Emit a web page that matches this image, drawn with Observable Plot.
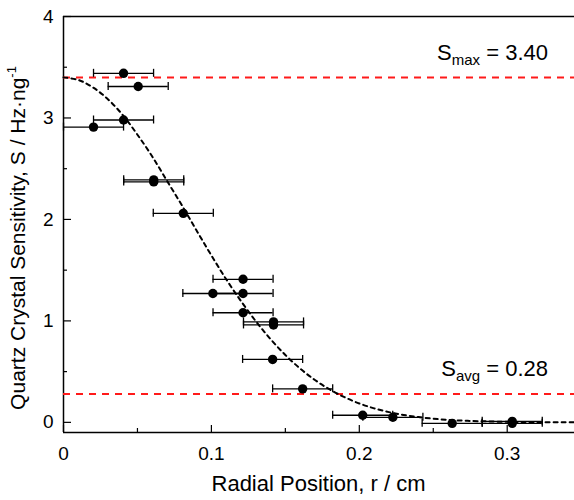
<!DOCTYPE html>
<html><head><meta charset="utf-8">
<script src="https://cdn.jsdelivr.net/npm/d3@7"></script>
<script src="https://cdn.jsdelivr.net/npm/@observablehq/plot@0.6"></script>
<style>body{margin:0;background:#fff;overflow:hidden} svg{display:block}</style>
</head><body><div id="chart"></div>
<script>
// Measured points (radial position in cm, sensitivity in Hz·ng^-1)
const radius = [0.0406, 0.0505, 0.0406, 0.0203, 0.061, 0.061, 0.081, 0.1214, 0.101, 0.1214, 0.1214, 0.142, 0.142, 0.1414, 0.1617, 0.2023, 0.2227, 0.2628, 0.3034, 0.3034];
const sensitivity = [3.44, 3.31, 2.98, 2.91, 2.39, 2.37, 2.06, 1.41, 1.27, 1.27, 1.08, 0.99, 0.96, 0.62, 0.33, 0.07, 0.05, -0.01, 0.01, -0.01];
const radiusError = [0.0203, 0.0203, 0.0203, 0.0203, 0.0203, 0.0203, 0.0203, 0.0203, 0.0203, 0.0203, 0.0203, 0.0203, 0.0203, 0.0203, 0.0203, 0.0203, 0.0203, 0.0203, 0.0203, 0.0203];
// Dashed fit curve
const fitRadius = [0, 0.01, 0.02, 0.03, 0.04, 0.05, 0.06, 0.07, 0.08, 0.09, 0.10, 0.11, 0.12, 0.13, 0.14, 0.15, 0.16, 0.17, 0.18, 0.19, 0.20, 0.21, 0.22, 0.23, 0.24, 0.25, 0.26, 0.27, 0.28, 0.30, 0.32, 0.3455];
const fitSensitivity = [3.40, 3.375, 3.30, 3.185, 3.03, 2.835, 2.62, 2.38, 2.14, 1.89, 1.645, 1.41, 1.195, 0.997, 0.82, 0.664, 0.53, 0.417, 0.324, 0.248, 0.186, 0.138, 0.101, 0.073, 0.052, 0.036, 0.025, 0.017, 0.012, 0.005, 0.002, 0.0];
// Reference levels
const refLevels = [3.40, 0.28];
const refSubscripts = ["max", "avg"];
const refLabels = ["3.40", "0.28"];
// Axis ticks
const xTicks = [0, 0.1, 0.2, 0.3];
const xMinorTicks = [0.05, 0.15, 0.25];
const yTicks = [0, 1, 2, 3, 4];
const yMinorTicks = [0.5, 1.5, 2.5, 3.5];
const xTitle = "Radial Position, r / cm";
const yTitle = "Quartz Crystal Sensitivity, S / Hz·ng";
const yTitleSup = "-1";

const points = radius.map((r, i) => ({r, s: sensitivity[i], e: radiusError[i]}));
const fit = fitRadius.map((r, i) => ({r, s: fitSensitivity[i]}));
const yBottom = -0.1, yTop = 4;

const plot = Plot.plot({
  width: 574, height: 500,
  marginLeft: 63, marginRight: 0, marginTop: 16, marginBottom: 68,
  style: {fontFamily: "'Liberation Sans', Arial, sans-serif", background: "white", color: "black"},
  x: {domain: [0, 0.3455], label: null},
  y: {domain: [yBottom, yTop], label: null},
  marks: [
    Plot.axisX(xTicks, {tickSize: 0, tickPadding: 14, fontSize: 19, tickFormat: d => String(d)}),
    Plot.axisY(yTicks, {tickSize: 0, tickPadding: 10, fontSize: 19, tickFormat: d => String(d)}),
    // inward ticks
    Plot.ruleY(yTicks, {x1: 0, x2: 0, insetRight: -8, stroke: "black", strokeWidth: 1.2}),
    Plot.ruleY(yMinorTicks, {x1: 0, x2: 0, insetRight: -4, stroke: "black", strokeWidth: 1.2}),
    Plot.ruleX(xTicks, {y1: yBottom, y2: yBottom, insetBottom: 7, stroke: "black", strokeWidth: 1.2}),
    Plot.ruleX(xMinorTicks, {y1: yBottom, y2: yBottom, insetBottom: 4, stroke: "black", strokeWidth: 1.2}),
    // frame
    Plot.ruleY([yTop], {stroke: "black", strokeWidth: 1.5}),
    Plot.ruleY([yBottom], {stroke: "black", strokeWidth: 1.5}),
    Plot.ruleX([0], {stroke: "black", strokeWidth: 1.5}),
    // reference lines
    Plot.ruleY(refLevels, {stroke: "#ff1a1a", strokeWidth: 2, strokeDasharray: "7,6"}),
    // fit curve
    Plot.line(fit, {x: "r", y: "s", curve: "catmull-rom", stroke: "black", strokeWidth: 2, strokeDasharray: "4,4"}),
    // error bars
    Plot.ruleY(points, {y: "s", x1: d => d.r - d.e, x2: d => d.r + d.e, stroke: "black", strokeWidth: 1.3}),
    Plot.ruleX(points, {x: d => d.r - d.e, y1: "s", y2: "s", insetTop: -4, insetBottom: -4, stroke: "black", strokeWidth: 1.3}),
    Plot.ruleX(points, {x: d => d.r + d.e, y1: "s", y2: "s", insetTop: -4, insetBottom: -4, stroke: "black", strokeWidth: 1.3}),
    Plot.dot(points, {x: "r", y: "s", r: 4.7, fill: "black", stroke: "none"})
  ]
});

const svg = d3.select(plot);
const ys = plot.scale("y");
const font = "'Liberation Sans', Arial, sans-serif";
refLevels.forEach((lv, i) => {
  const t = svg.append("text")
    .attr("x", 548).attr("y", ys.apply(lv) - 17)
    .attr("text-anchor", "end")
    .attr("font-family", font).attr("font-size", 22).attr("fill", "black");
  t.append("tspan").text("S");
  t.append("tspan").attr("font-size", 15).attr("dy", 5).text(refSubscripts[i]);
  t.append("tspan").attr("dy", -5).text(" = " + refLabels[i]);
});
svg.append("text")
  .attr("x", (63 + 574) / 2).attr("y", 491)
  .attr("text-anchor", "middle")
  .attr("font-family", font).attr("font-size", 22).attr("fill", "black")
  .text(xTitle);
const yt = svg.append("text")
  .attr("transform", `translate(25,238) rotate(-90)`)
  .attr("text-anchor", "middle")
  .attr("font-family", font).attr("font-size", 21).attr("fill", "black");
yt.append("tspan").text(yTitle);
yt.append("tspan").attr("font-size", 13).attr("dy", -9).text(yTitleSup);

document.getElementById("chart").appendChild(plot);
</script>
</body></html>
